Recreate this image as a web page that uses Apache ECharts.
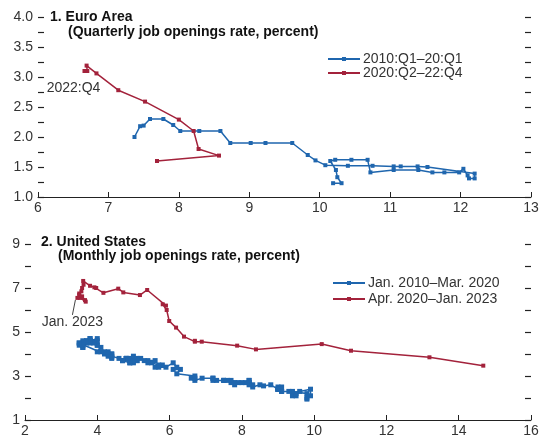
<!DOCTYPE html>
<html>
<head>
<meta charset="utf-8">
<script src="https://cdn.jsdelivr.net/npm/echarts@6/dist/echarts.min.js"></script>
<style>
  html, body { margin: 0; padding: 0; background: #fff; }
  #chart { width: 548px; height: 440px; }
</style>
</head>
<body>
<div id="chart"></div>
<script>
// Beveridge curves: unemployment rate (x) against job openings rate (y).

// Panel 1: euro area, quarterly
const euroTitle = '1. Euro Area';
const euroSubtitle = '(Quarterly job openings rate, percent)';
const euroPreName = '2010:Q1–20:Q1';
const euroPostName = '2020:Q2–22:Q4';
const euroEndLabel = '2022:Q4';

const euroPreUnemp = [10.19, 10.31, 10.25, 10.23, 10.15, 10.22, 10.45, 10.68, 10.72, 11.05,
  11.40, 11.60, 11.77, 11.98, 12.04, 12.10, 12.12, 12.20, 12.20, 11.53,
  11.39, 11.15, 11.05, 10.75, 10.40, 10.08, 9.94, 9.83, 9.61, 9.23,
  9.02, 8.73, 8.59, 8.29, 8.02, 7.92, 7.78, 7.59, 7.50, 7.45, 7.37];
const euroPreOpen = [1.23, 1.23, 1.33, 1.45, 1.60, 1.62, 1.62, 1.62, 1.41, 1.45,
  1.45, 1.41, 1.41, 1.41, 1.47, 1.36, 1.31, 1.31, 1.39, 1.50,
  1.51, 1.51, 1.51, 1.52, 1.52, 1.53, 1.61, 1.70, 1.90, 1.90,
  1.90, 1.90, 2.10, 2.10, 2.10, 2.20, 2.30, 2.30, 2.19, 2.18, 2.00];

const euroPostUnemp = [7.69, 8.57, 8.28, 8.21, 8.00, 7.52, 7.14, 6.83, 6.69, 6.70, 6.66];
const euroPostOpen = [1.60, 1.69, 1.80, 2.10, 2.29, 2.59, 2.78, 3.06, 3.19, 3.10, 3.10];

// Panel 2: United States, monthly
const usTitle = '2. United States';
const usSubtitle = '(Monthly job openings rate, percent)';
const usPreName = 'Jan. 2010–Mar. 2020';
const usPostName = 'Apr. 2020–Jan. 2023';
const usEndLabel = 'Jan. 2023';

const usPreUnemp = [
  9.8, 9.8, 9.9, 9.9, 9.6, 9.4, 9.4, 9.5, 9.5, 9.4, 9.8, 9.3,
  9.1, 9.0, 9.0, 9.1, 9.0, 9.1, 9.0, 9.0, 9.0, 8.8, 8.6, 8.5,
  8.3, 8.3, 8.2, 8.2, 8.2, 8.2, 8.2, 8.1, 7.8, 7.8, 7.7, 7.9,
  8.0, 7.7, 7.5, 7.6, 7.5, 7.5, 7.3, 7.2, 7.2, 7.2, 6.9, 6.7,
  6.6, 6.7, 6.7, 6.2, 6.3, 6.1, 6.2, 6.1, 5.9, 5.7, 5.8, 5.6,
  5.7, 5.5, 5.4, 5.4, 5.6, 5.3, 5.2, 5.1, 5.0, 5.0, 5.1, 5.0,
  4.8, 4.9, 5.0, 5.1, 4.8, 4.9, 4.8, 4.9, 5.0, 4.9, 4.7, 4.7,
  4.7, 4.6, 4.4, 4.4, 4.4, 4.3, 4.3, 4.4, 4.3, 4.2, 4.2, 4.1,
  4.0, 4.1, 4.0, 4.0, 3.8, 4.0, 3.8, 3.8, 3.7, 3.8, 3.8, 3.9,
  4.0, 3.8, 3.8, 3.7, 3.6, 3.6, 3.7, 3.6, 3.5, 3.6, 3.6, 3.6,
  3.5, 3.5, 4.4];
const usPreOpen = [
  1.95, 2.0, 2.1, 2.4, 2.3, 2.1, 2.2, 2.1, 2.2, 2.3, 2.2, 2.3,
  2.3, 2.4, 2.4, 2.3, 2.4, 2.5, 2.4, 2.5, 2.4, 2.6, 2.55, 2.6,
  2.5, 2.6, 2.8, 2.7, 2.8, 2.7, 2.6, 2.7, 2.7, 2.6, 2.7, 2.7,
  2.7, 2.8, 2.8, 2.8, 2.8, 2.8, 2.8, 2.9, 2.8, 2.9, 2.9, 2.8,
  2.9, 2.9, 3.0, 3.1, 3.3, 3.3, 3.4, 3.6, 3.4, 3.4, 3.5, 3.4,
  3.5, 3.6, 3.6, 3.7, 3.7, 3.7, 3.8, 3.7, 3.6, 3.7, 3.7, 3.7,
  3.8, 3.7, 3.9, 3.8, 3.8, 3.8, 3.8, 3.6, 3.7, 3.6, 3.7, 3.7,
  3.7, 3.8, 3.9, 3.8, 4.0, 3.9, 4.0, 4.0, 4.1, 4.0, 4.1, 4.1,
  4.1, 4.3, 4.4, 4.4, 4.5, 4.6, 4.6, 4.7, 4.6, 4.6, 4.7, 4.5,
  4.7, 4.6, 4.6, 4.6, 4.5, 4.6, 4.5, 4.4, 4.5, 4.3, 4.4, 4.3,
  4.4, 4.5, 3.85];

const usPostUnemp = [14.68, 13.19, 11.02, 10.21, 8.39, 7.87, 6.89, 6.70, 6.70,
  6.40, 6.18, 5.99, 5.92, 5.81, 5.90, 5.38, 5.18, 4.72, 4.58, 4.17, 3.92,
  3.97, 3.80, 3.61, 3.62, 3.58, 3.56, 3.50, 3.68, 3.52, 3.66, 3.58, 3.50,
  3.45];
const usPostOpen = [3.47, 3.85, 4.15, 4.45, 4.21, 4.38, 4.56, 4.56, 4.60,
  4.79, 5.20, 5.50, 6.00, 6.26, 6.20, 6.91, 6.68, 6.80, 6.97, 6.78, 7.03,
  7.00, 7.10, 7.32, 7.15, 7.00, 6.85, 6.75, 6.38, 6.55, 6.45, 6.62, 6.68,
  6.55];

const BLUE = '#1f66ae';
const RED = '#a3223b';
const TEXT = '#333';
const FONT = 'Liberation Sans, Arial, sans-serif';
const FS = 14;

const zip = (xs, ys) => xs.map((x, i) => [x, ys[i]]);

function lineSeries(name, xs, ys, color, axisIdx, extra) {
  return Object.assign({
    name: name,
    type: 'line',
    xAxisIndex: axisIdx,
    yAxisIndex: axisIdx * 2,
    data: zip(xs, ys),
    symbol: 'rect',
    symbolSize: 4,
    showSymbol: true,
    color: color,
    lineStyle: { color: color, width: 1.5 },
    itemStyle: { color: color },
    emphasis: { disabled: true },
    animation: false,
    z: 3
  }, extra || {});
}

function xAxisCfg(gridIndex, min, max, interval) {
  return {
    type: 'value', gridIndex: gridIndex, min: min, max: max, interval: interval,
    axisLine: { show: true, onZero: false, lineStyle: { color: '#222', width: 1 } },
    axisTick: { show: true, inside: true, length: 5, lineStyle: { color: '#222' } },
    axisLabel: { color: TEXT, fontSize: FS, fontFamily: FONT, margin: 4 },
    splitLine: { show: false }
  };
}

function yAxisCfg(gridIndex, min, max, interval, position, labelEvery, decimals) {
  return {
    type: 'value', gridIndex: gridIndex, position: position,
    min: min, max: max, interval: interval,
    axisLine: { show: false },
    axisTick: { show: true, inside: true, length: 6, lineStyle: { color: '#222', width: 1.2 } },
    axisLabel: {
      show: position === 'left',
      color: TEXT, fontSize: FS, fontFamily: FONT, margin: 5,
      formatter: function (v) {
        const k = Math.round((v - min) / interval);
        return k % labelEvery === 0 ? v.toFixed(decimals) : '';
      }
    },
    splitLine: { show: false }
  };
}

const lastIdx = (arr) => arr.length - 1;
const titleStyle = { fontSize: FS, fontWeight: 'bold', color: '#111', fontFamily: FONT };

const option = {
  backgroundColor: '#fff',
  animation: false,
  textStyle: { fontFamily: FONT },
  title: [
    { text: euroTitle, left: 50, top: 10, padding: 0, textStyle: titleStyle },
    { text: euroSubtitle, left: 68, top: 25, padding: 0, textStyle: titleStyle },
    { text: usTitle, left: 41, top: 235, padding: 0, textStyle: titleStyle },
    { text: usSubtitle, left: 58, top: 249, padding: 0, textStyle: titleStyle }
  ],
  legend: [
    { data: [euroPreName, euroPostName], orient: 'vertical', left: 327, top: 52,
      padding: 0, itemGap: 0, itemWidth: 32, itemHeight: 5,
      textStyle: { fontSize: FS, color: TEXT, fontFamily: FONT, padding: [0, 0, 0, -2] },
      selectedMode: false },
    { data: [usPreName, usPostName], orient: 'vertical', left: 332, top: 276,
      padding: 0, itemGap: 2, itemWidth: 32, itemHeight: 5,
      textStyle: { fontSize: FS, color: TEXT, fontFamily: FONT, padding: [0, 0, 0, -2] },
      selectedMode: false }
  ],
  grid: [
    { left: 38, right: 17, top: 17, height: 180 },
    { left: 25, right: 17, top: 244, height: 176 }
  ],
  xAxis: [
    xAxisCfg(0, 6, 13, 1),
    xAxisCfg(1, 2, 16, 2)
  ],
  yAxis: [
    yAxisCfg(0, 1, 4, 0.25, 'left', 2, 1),
    yAxisCfg(0, 1, 4, 0.25, 'right', 2, 1),
    yAxisCfg(1, 1, 9, 1, 'left', 2, 0),
    yAxisCfg(1, 1, 9, 1, 'right', 2, 0)
  ],
  series: [
    lineSeries(euroPreName, euroPreUnemp, euroPreOpen, BLUE, 0),
    lineSeries(euroPostName, euroPostUnemp, euroPostOpen, RED, 0, {
      label: {
        show: true, position: 'inside', offset: [-11, 17],
        fontSize: FS, color: TEXT, fontFamily: FONT,
        formatter: (p) => p.dataIndex === lastIdx(euroPostUnemp) ? euroEndLabel : ''
      }
    }),
    lineSeries(usPreName, usPreUnemp, usPreOpen, BLUE, 1, { symbolSize: 5 }),
    lineSeries(usPostName, usPostUnemp, usPostOpen, RED, 1, {
      label: {
        show: true, position: 'inside',
        fontSize: FS, color: TEXT, fontFamily: FONT,
        formatter: (p) => p.dataIndex === lastIdx(usPostUnemp) ? usEndLabel : ''
      },
      labelLayout: (params) => params.dataIndex === lastIdx(usPostUnemp)
        ? { dx: -5, dy: 24 } : {},
      labelLine: { show: true, lineStyle: { color: '#444', width: 1 } }
    })
  ]
};

const chart = echarts.init(document.getElementById('chart'), null, { renderer: 'canvas' });
chart.setOption(option);
</script>
</body>
</html>
